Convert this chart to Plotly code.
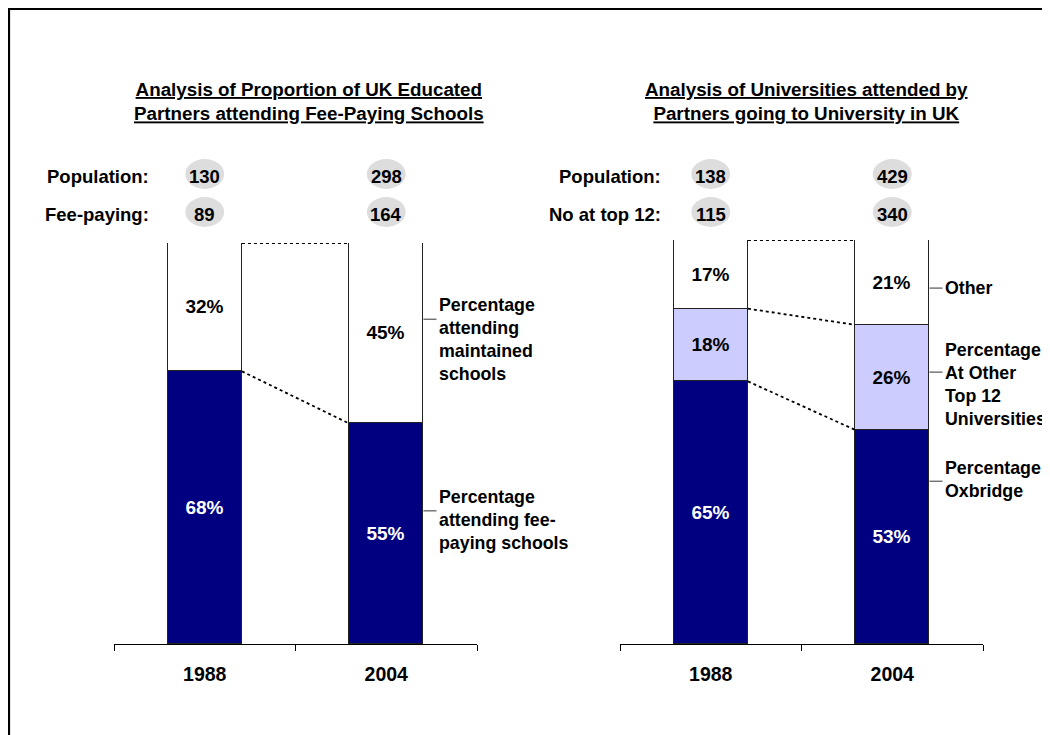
import plotly.graph_objects as go

# page body has an 8px margin, so the figure is drawn 8px in from the window edge
OFF = 8
W, H = 1042, 727
FONT = "Liberation Sans, Arial, sans-serif"

# ---------------- data ----------------
years = ["1988", "2004"]

# Left chart: schools
fee_paying_pct = [68, 55]
maintained_pct = [32, 45]
school_population = [130, 298]
school_fee_paying = [89, 164]

# Right chart: universities
oxbridge_pct = [65, 53]
other_top12_pct = [18, 26]
other_pct = [17, 21]
uni_population = [138, 429]
uni_top12 = [115, 340]

left_title = "Analysis of Proportion of UK Educated<br>Partners attending Fee-Paying Schools"
right_title = "Analysis of Universities attended by<br>Partners going to University in UK"

NAVY = "#000080"
LAV = "#CCCCFF"
BUBBLE = "#DDDDDD"
BAR_W = 0.41


def px(x):
    return (x - OFF) / W


def py(y):
    return 1 - (y - OFF) / H


fig = go.Figure()


def add_bar(vals, color, tcolor, xa, ya, name):
    fig.add_trace(go.Bar(
        x=years, y=vals, name=name, xaxis=xa, yaxis=ya,
        width=BAR_W,
        marker=dict(color=color, line=dict(color="#222222", width=1)),
        text=[f"{v}%" for v in vals], textposition="inside",
        insidetextanchor="middle", textangle=0,
        textfont=dict(family=FONT, size=19, color=tcolor, weight="bold"),
        hoverinfo="skip", showlegend=False,
    ))


add_bar(fee_paying_pct, NAVY, "white", "x", "y", "fee")
add_bar(maintained_pct, "white", "black", "x", "y", "maint")
add_bar(oxbridge_pct, NAVY, "white", "x2", "y2", "oxb")
add_bar(other_top12_pct, LAV, "black", "x2", "y2", "top12")
add_bar(other_pct, "white", "black", "x2", "y2", "other")

axis_common = dict(
    type="category", showline=True, linecolor="black", linewidth=1,
    ticks="outside", tickson="boundaries", ticklen=6, tickcolor="black",
    showgrid=False, zeroline=False, fixedrange=True,
    tickfont=dict(family=FONT, size=19.5, color="black", weight="bold"),
    ticklabelstandoff=13,
)
yaxis_common = dict(range=[0, 100], visible=False, showgrid=False, fixedrange=True)

shapes = []
annotations = []

charts = [
    dict(xa="x", ya="y", xdom=(114, 477), ytop=243,
         stacks=[fee_paying_pct, maintained_pct],
         title=left_title, tx=309,
         row_labels=["Population:", "Fee-paying:"], row_lab_x=151,
         rows=[school_population, school_fee_paying],
         side=[("Percentage<br>attending<br>maintained<br>schools", 81.0, 339),
               ("Percentage<br>attending fee-<br>paying schools", 33.2, 520)]),
    dict(xa="x2", ya="y2", xdom=(620, 983), ytop=240,
         stacks=[oxbridge_pct, other_top12_pct, other_pct],
         title=right_title, tx=806,
         row_labels=["Population:", "No at top 12:"], row_lab_x=663,
         rows=[uni_population, uni_top12],
         side=[("Other", 88.1, 288),
               ("Percentage<br>At Other<br>Top 12<br>Universities", 67.3, 384),
               ("Percentage<br>Oxbridge", 40.3, 479)]),
]

layout_axes = {}
for i, c in enumerate(charts):
    suffix = "" if i == 0 else str(i + 1)
    bottom = 644
    layout_axes["xaxis" + suffix] = dict(axis_common, domain=[px(c["xdom"][0]), px(c["xdom"][1])],
                                          anchor=c["ya"], range=[-0.5, 1.5])
    layout_axes["yaxis" + suffix] = dict(yaxis_common, domain=[py(bottom), py(c["ytop"])],
                                          anchor=c["xa"])

    # dotted connectors between the segment boundaries of the two bars
    cum0, cum1 = 0, 0
    for seg in c["stacks"]:
        cum0 += seg[0]
        cum1 += seg[1]
        shapes.append(dict(type="line", xref=c["xa"], yref=c["ya"],
                           x0=0 + BAR_W / 2, x1=1 - BAR_W / 2, y0=cum0, y1=cum1,
                           line=dict(color="black", width=1.8, dash="dot")))

    # title
    annotations.append(dict(xref="paper", yref="paper", x=px(c["tx"]), y=py(102),
                            xanchor="center", yanchor="middle", showarrow=False,
                            text=f"<u>{c['title']}</u>", align="center",
                            font=dict(family=FONT, size=18.8, color="black", weight="bold")))

    # population rows with grey bubbles
    for r, (lab, vals) in enumerate(zip(c["row_labels"], c["rows"])):
        yc = 176 + r * 38
        annotations.append(dict(xref="paper", yref="paper", x=px(c["row_lab_x"]), y=py(yc),
                                xanchor="right", yanchor="middle", showarrow=False, text=lab,
                                font=dict(family=FONT, size=18.5, color="black", weight="bold")))
        for j, v in enumerate(vals):
            shapes.append(dict(type="circle", xref=c["xa"], yref="paper",
                               x0=j - 0.107, x1=j + 0.107,
                               y0=py(yc - 2 + 15), y1=py(yc - 2 - 15),
                               fillcolor=BUBBLE, line=dict(width=0), layer="below"))
            annotations.append(dict(xref=c["xa"], yref="paper", x=j, y=py(yc),
                                    xanchor="center", yanchor="middle", showarrow=False,
                                    text=str(v),
                                    font=dict(family=FONT, size=18.5, color="black", weight="bold")))

    # side labels with leader lines
    xr0 = c["xdom"][0] + (c["xdom"][1] - c["xdom"][0]) * (1.5 + BAR_W / 2) / 2.0
    for text, yv, ytxt in c["side"]:
        shapes.append(dict(type="line", xref=c["xa"], yref=c["ya"],
                           x0=1 + BAR_W / 2, x1=1 + BAR_W / 2 + 0.072, y0=yv, y1=yv,
                           line=dict(color="#333333", width=1)))
        annotations.append(dict(xref="paper", yref="paper", x=px(xr0 + 14), y=py(ytxt),
                                xanchor="left", yanchor="middle", showarrow=False,
                                text=text, align="left",
                                font=dict(family=FONT, size=17.8, color="black", weight="bold")))

# outer frame (runs off the right and bottom edges)
shapes.append(dict(type="rect", xref="paper", yref="paper",
                   x0=px(9), x1=1.02, y0=-0.02, y1=py(8.9),
                   line=dict(color="black", width=2.2), fillcolor="rgba(0,0,0,0)"))

fig.update_layout(
    width=W, height=H,
    margin=dict(l=0, r=0, t=0, b=0),
    paper_bgcolor="white", plot_bgcolor="white",
    barmode="stack", bargap=0,
    shapes=shapes, annotations=annotations,
    font=dict(family=FONT, color="black"),
    **layout_axes,
)

fig.write_html("out.html")
